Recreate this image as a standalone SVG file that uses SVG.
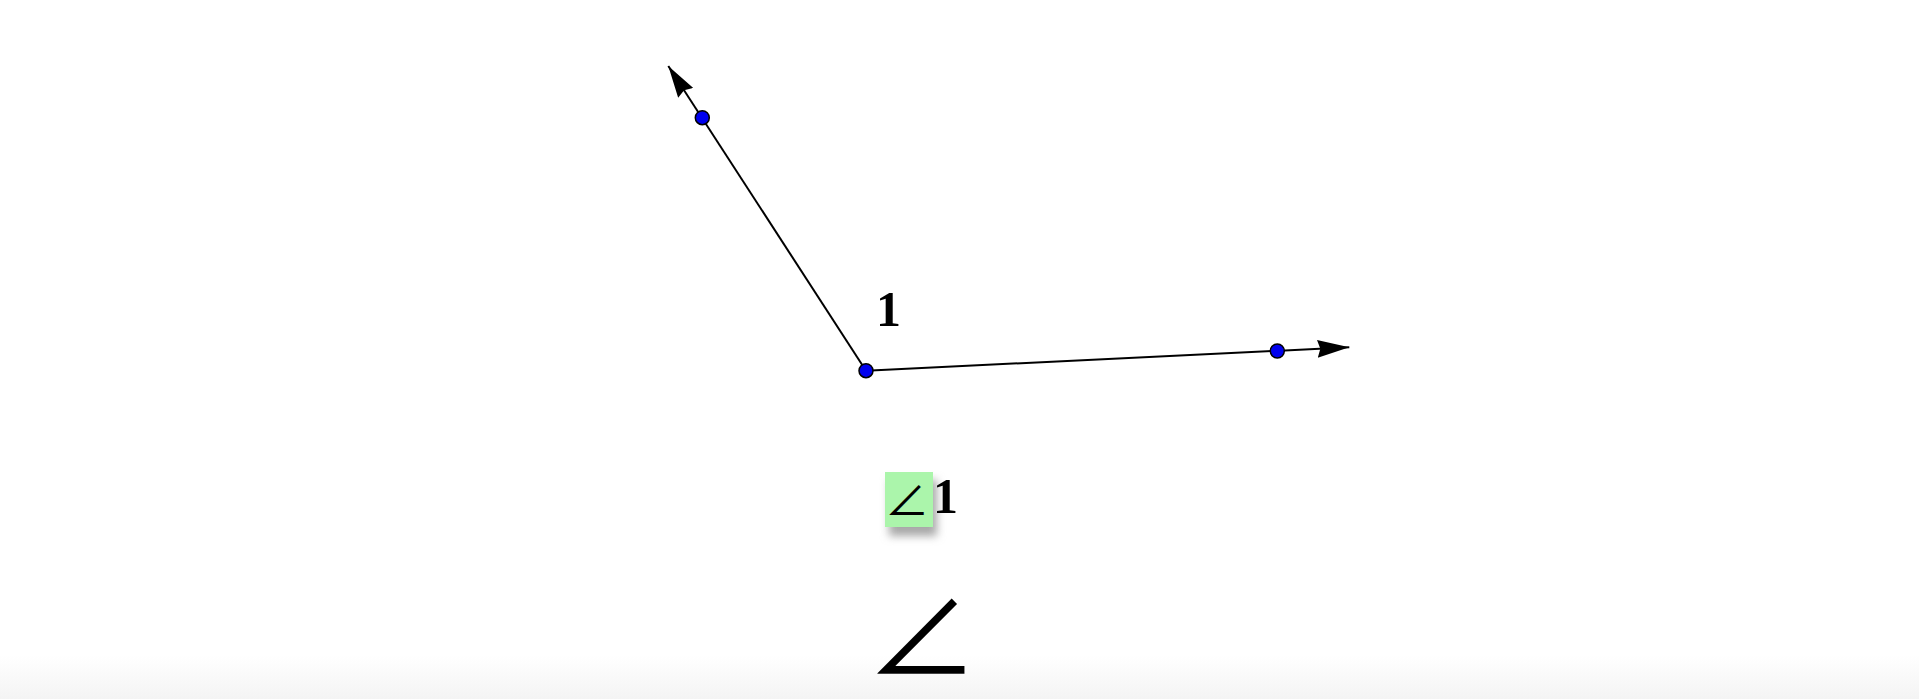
<svg xmlns="http://www.w3.org/2000/svg" width="1919" height="699" viewBox="0 0 1919 699">
<defs>
<linearGradient id="bg" x1="0" y1="0" x2="0" y2="1">
<stop offset="0" stop-color="#ffffff"/>
<stop offset="1" stop-color="#f4f4f4"/>
</linearGradient>
<marker id="arr" markerWidth="32" markerHeight="18" refX="32" refY="9" orient="auto" markerUnits="userSpaceOnUse">
<path d="M0,0 L32,9 L0,18 L3,9 Z" fill="#000"/>
</marker>
<filter id="sh" x="-40%" y="-40%" width="190%" height="190%">
<feGaussianBlur stdDeviation="4"/>
</filter>
<style>
.ray{stroke:#000;stroke-width:2;fill:none}
.pt{fill:#0000ee;stroke:#000;stroke-width:1.5}
.lbl{font-family:"Liberation Serif",serif;font-size:50px;font-weight:bold;fill:#000}
.ang{font-family:"Noto Sans CJK SC","Noto Sans CJK JP",sans-serif;fill:#000}
</style>
</defs>
<rect width="1919" height="699" fill="#fff"/>
<rect y="655" width="1919" height="44" fill="url(#bg)"/>
<g id="connectors">
<line class="ray" x1="866" y1="370.7" x2="668.3" y2="66" marker-end="url(#arr)"/>
<line class="ray" x1="866" y1="370.7" x2="1349.3" y2="347.3" marker-end="url(#arr)"/>
</g>
<g id="vertex"><circle class="pt" cx="866" cy="370.7" r="7"/></g>
<g id="pointA"><circle class="pt" cx="702.3" cy="117.7" r="7"/></g>
<g id="pointB"><circle class="pt" cx="1277.3" cy="351" r="7"/></g>
<g id="label1"><text class="lbl" x="876" y="326">1</text></g>
<g id="angleLabel">
<rect x="889" y="480" width="48" height="56" fill="#a8a8a8" filter="url(#sh)"/>
<rect x="885" y="472" width="48" height="55" fill="#abf5ab"/>
<text class="ang" x="885" y="516" font-size="44" fill="#0a400a">∠</text>
<text class="lbl" x="933" y="513">1</text>
</g>
<g id="angleIcon">
<text class="ang" x="866" y="677" font-size="112">∠</text>
</g>
</svg>
